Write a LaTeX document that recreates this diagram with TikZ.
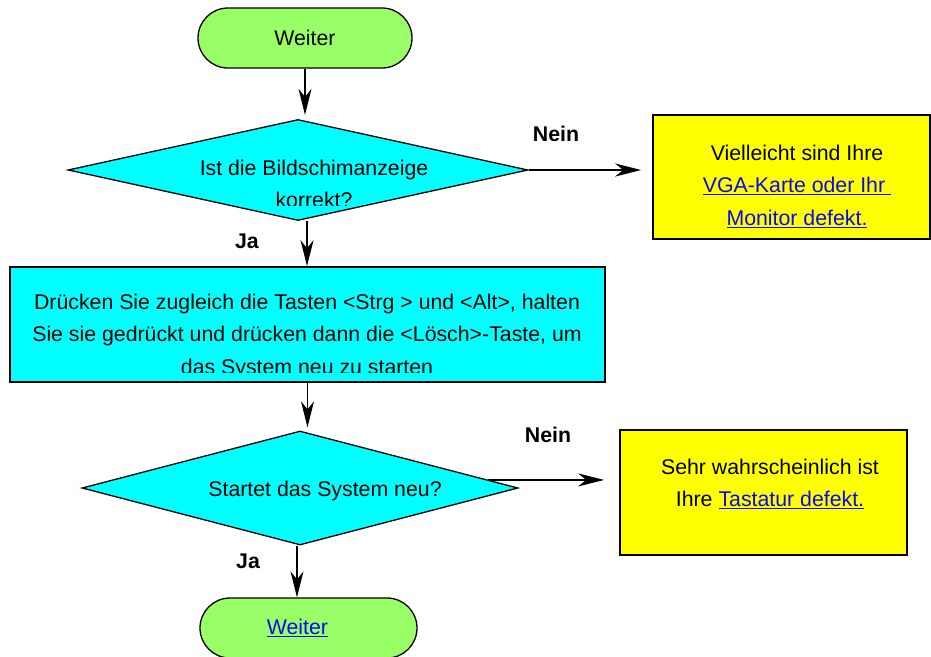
\documentclass[tikz,border=0pt]{standalone}
\usepackage{fontspec}
\setmainfont{Liberation Sans}
\usetikzlibrary{arrows.meta,positioning,calc,shapes.geometric}
\definecolor{cterm}{RGB}{153,255,102}
\definecolor{cstep}{RGB}{0,255,255}
\definecolor{cnote}{RGB}{255,255,0}
\definecolor{clink}{RGB}{10,10,240}
\newcommand{\weblink}[1]{\textcolor{clink}{\underline{#1}}}
\tikzset{
  term/.style={draw, fill=cterm, line width=1.3pt, rounded corners=30pt, minimum width=214pt, minimum height=60pt, font=\fontsize{21.3}{32.5}\selectfont},
  decision/.style={diamond, draw, fill=cstep, line width=1.3pt, inner sep=0pt, minimum width=460pt, minimum height=101pt},
  stepbox/.style={draw, fill=cstep, line width=1.6pt, inner sep=0pt, minimum width=595pt, minimum height=115pt},
  notebox/.style={draw, fill=cnote, line width=1.6pt, inner sep=0pt},
  txt/.style={align=center, inner sep=0pt, font=\fontsize{21.3}{32.5}\selectfont},
  lbl/.style={inner sep=0pt, font=\fontsize{21.3}{24}\selectfont\bfseries},
  arr/.style={-{Stealth[length=26pt, width=13pt, inset=8pt]}, line width=1.2pt}
}
\begin{document}
\begin{tikzpicture}[x=1pt,y=-1pt]
\useasboundingbox (0,0) rectangle (931,656);
\node[term] (start) at (305,38) {Weiter};
\node[decision] (q1) at (298,170) {};
\node[notebox, minimum width=277pt, minimum height=124pt] (vga) at (791.5,177) {};
\node[stepbox] (reset) at (307.5,324.5) {};
\node[decision, minimum width=436pt, minimum height=114pt] (q2) at (300,488) {};
\node[notebox, minimum width=287pt, minimum height=125pt] (kbd) at (763.5,492.5) {};
\node[term, minimum width=217pt] (end) at (308.5,628) {\hspace*{-22pt}\weblink{Weiter}};
\begin{scope}
\clip (68,119) rectangle (528,205);
\node[txt] (q1text) at (314,184) {Ist die Bildschimanzeige\\korrekt?};
\end{scope}
\begin{scope}
\clip (10,267) rectangle (605,372);
\node[txt] (resettext) at (307,336) {Drücken Sie zugleich die Tasten <Strg > und <Alt>, halten\\Sie sie gedrückt und drücken dann die <Lösch>-Taste, um\\das System neu zu starten};
\end{scope}
\node[txt] (q2text) at (325,491) {Startet das System neu?};
\node[txt] (vgatext) at (797,186) {Vielleicht sind Ihre\\\weblink{VGA-Karte oder Ihr~}\\\weblink{Monitor defekt.}};
\node[txt] (kbdtext) at (770,484) {Sehr wahrscheinlich ist\\Ihre \weblink{Tastatur defekt.}};
\node[lbl] (nein1) at (556,134) {Nein};
\node[lbl] (ja1) at (247,241) {Ja};
\node[lbl] (nein2) at (548,435) {Nein};
\node[lbl] (ja2) at (248,561) {Ja};
\coordinate (n2) at ($(q2.north)!0.86!(q2.east)$);
\draw[arr, shorten >=4pt] (start.south) -- (start.south |- q1.north);
\draw[arr, shorten >=11pt] (q1.east) -- (q1.east -| vga.west);
\draw[arr] ([xshift=9pt]q1.south) -- ([xshift=9pt]q1.south |- reset.north);
\draw[arr, shorten >=3pt] (reset.south) -- (reset.south |- q2.north);
\draw[arr, shorten >=15pt] (n2) -- (n2 -| kbd.west);
\draw[arr] ([xshift=-3pt]q2.south) -- ([xshift=-3pt]q2.south |- end.north);
\end{tikzpicture}
\end{document}
